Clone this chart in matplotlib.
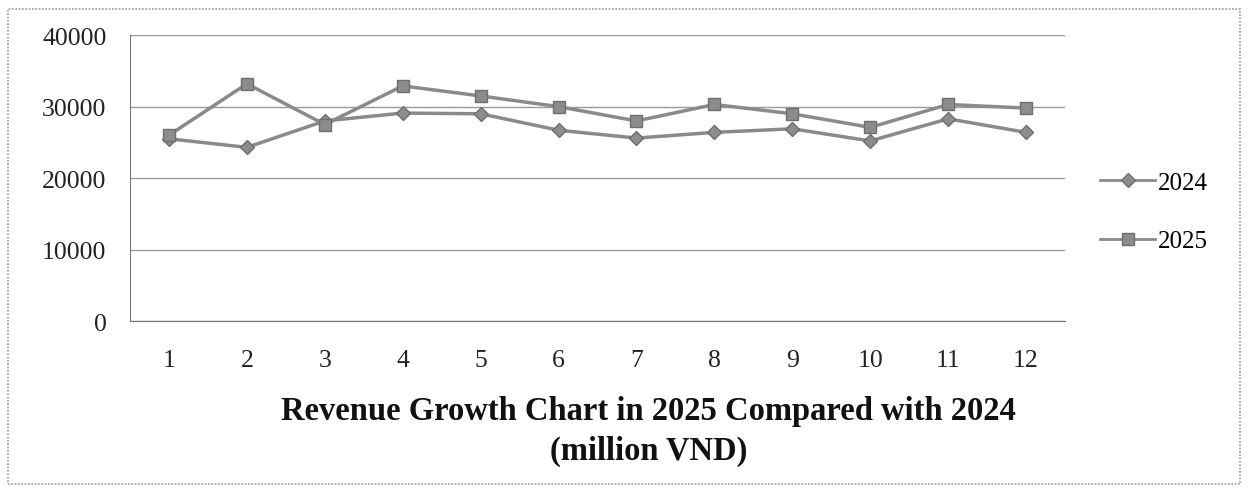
import matplotlib
matplotlib.use("Agg")
import matplotlib.pyplot as plt
from matplotlib.patches import Rectangle

months = ["1", "2", "3", "4", "5", "6", "7", "8", "9", "10", "11", "12"]
rev_2024 = [25500, 24300, 28000, 29100, 29000, 26700, 25600, 26400, 26900, 25200, 28300, 26400]
rev_2025 = [26000, 33200, 27500, 32900, 31500, 30000, 28000, 30300, 29000, 27100, 30300, 29800]
yticks = [0, 10000, 20000, 30000, 40000]
title = "Revenue Growth Chart in 2025 Compared with 2024\n(million VND)"

plt.rcParams['font.family'] = ['Liberation Serif', 'DejaVu Serif']

fig = plt.figure(figsize=(12.5, 4.89), dpi=100)
fig.patch.set_facecolor("white")
fig.patches.append(Rectangle((0.006, 0.008), 0.986, 0.972, transform=fig.transFigure,
                             fill=False, edgecolor="#9a9a9a", linewidth=1.2, linestyle=(0, (1, 1))))

ax = fig.add_axes([0.104, 0.3415, 0.748, 0.5845])
x = list(range(len(months)))
ax.plot(x, rev_2024, color="#8a8a8a", linewidth=2.5, marker="D", markersize=7,
        markerfacecolor="#8c8c8c", markeredgecolor="#6e6e6e", label="2024")
ax.plot(x, rev_2025, color="#8a8a8a", linewidth=2.5, marker="s", markersize=9,
        markerfacecolor="#8c8c8c", markeredgecolor="#6e6e6e", label="2025")

ax.set_xlim(-0.5, len(months) - 0.5)
ax.set_ylim(0, 40000)
ax.set_yticks(yticks)
ax.set_yticklabels([str(v) for v in yticks])
ax.set_xticks(x)
ax.set_xticklabels(months)
ax.tick_params(axis="both", labelsize=18.5, length=0, colors="#222222")
ax.tick_params(axis="x", pad=20)
ax.tick_params(axis="y", pad=17)
ax.yaxis.grid(True, color="#9a9a9a", linewidth=1.0)
ax.set_axisbelow(True)
for s in ["top", "right"]:
    ax.spines[s].set_visible(False)
ax.spines["left"].set_color("#777777")
ax.spines["bottom"].set_color("#777777")

leg = fig.legend(loc="center left", bbox_to_anchor=(0.862, 0.565), frameon=False,
                 fontsize=18, handlelength=2.2, labelspacing=1.45, handletextpad=0.1)
for line in leg.get_lines():
    line.set_linewidth(2.0)

fig.text(0.519, 0.118, title, ha="center", va="center", fontsize=23.5, fontweight="bold",
         linespacing=1.35, color="#111111")

fig.savefig("out.png", dpi=100)
